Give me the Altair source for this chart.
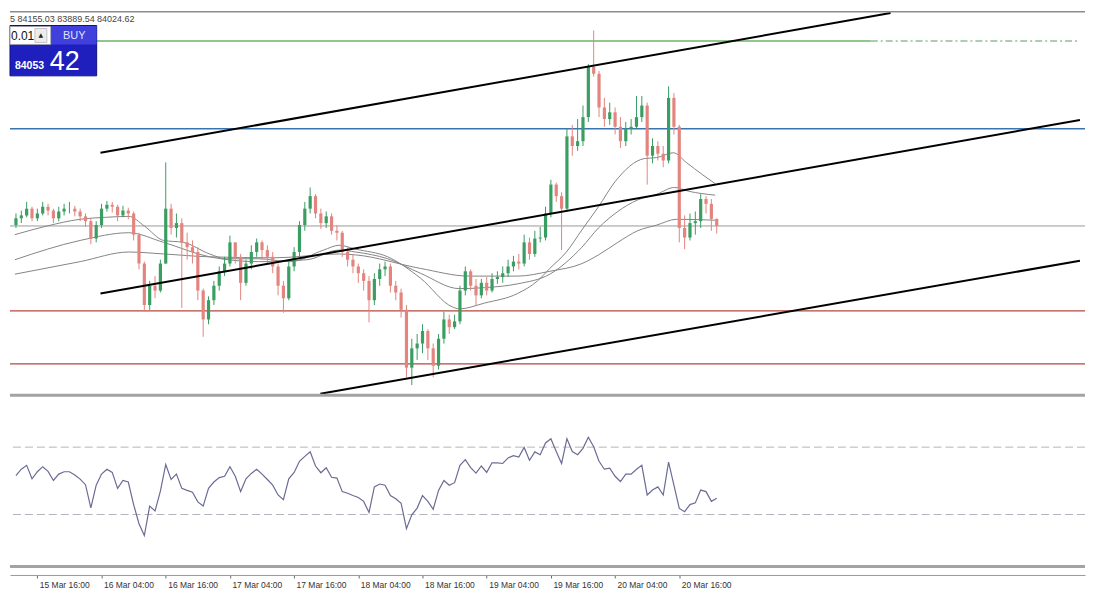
import altair as alt
import pandas as pd

BASE = pd.Timestamp("2025-03-15 12:00")


def ts(h):
    return (BASE + pd.Timedelta(hours=float(h))).strftime("%Y-%m-%dT%H:%M:%S")

# ---------------- candle data (BTCUSD, H1) ----------------
first_open = 84041
close = [84160, 84211, 84330, 84160, 84245, 84364, 84296, 84160, 84279, 84330,
         84330, 84279, 84194, 84109, 83803, 84041, 84330, 84398, 84364, 84211,
         84296, 84245, 83871, 83361, 82630, 82970, 82885, 83361, 84330, 83990,
         84075, 83735, 83650, 83565, 82885, 82375, 82715, 82970, 83225, 83361,
         83735, 83480, 83021, 83361, 83565, 83735, 83599, 83480, 83310, 82970,
         82749, 83310, 83565, 84041, 84330, 84551, 84245, 84075, 84194, 83939,
         83905, 83565, 83429, 83310, 83191, 83055, 82715, 83089, 83259, 83310,
         82970, 82851, 82545, 81525, 81865, 81950, 82171, 81865, 81559, 82035,
         82375, 82239, 82341, 82885, 83225, 82970, 82800, 83021, 82885, 83089,
         83123, 83191, 83310, 83395, 83361, 83735, 83531, 83803, 83820, 84245,
         84755, 84551, 84330, 85605, 85435, 85520, 85945, 86829, 86710, 86115,
         85911, 86030, 85775, 85520, 85741, 85775, 85945, 86149, 85265, 85435,
         85299, 85180, 86285, 85775, 83990, 83820, 84075, 84109, 84500, 84415,
         84150, 84024.62]
high = [84245, 84296, 84449, 84364, 84330, 84449, 84415, 84330, 84364, 84415,
        84449, 84381, 84330, 84245, 84160, 84109, 84415, 84466, 84449, 84398,
        84381, 84347, 84279, 83905, 83395, 83055, 83140, 83429, 85146, 84415,
        84245, 84160, 83905, 83769, 83650, 82919, 82783, 83055, 83310, 83480,
        83854, 83735, 83531, 83429, 83684, 83803, 83769, 83684, 83565, 83361,
        83055, 83395, 83650, 84109, 84449, 84704, 84585, 84330, 84279, 84245,
        84041, 83939, 83650, 83531, 83361, 83259, 83140, 83191, 83361, 83395,
        83361, 83055, 82919, 82630, 82035, 82120, 82290, 82205, 81950, 82120,
        82511, 82460, 82460, 82970, 83310, 83259, 83089, 83089, 83123, 83191,
        83225, 83310, 83429, 83497, 83531, 83871, 83820, 83939, 84007, 84364,
        84840, 84789, 84619, 85741, 85809, 85911, 86149, 86880, 87475, 86761,
        86285, 86200, 86115, 85945, 85860, 85911, 86319, 86319, 86200, 85571,
        85520, 85435, 86489, 86370, 85809, 84211, 84245, 84279, 84585, 84551,
        84500, 84155.03]
low = [83990, 84075, 84177, 84109, 84109, 84211, 84211, 84075, 84109, 84211,
       84245, 84194, 84109, 84007, 83701, 83735, 83990, 84279, 84262, 84109,
       84177, 84143, 83769, 83259, 82511, 82545, 82749, 82851, 83361, 83871,
       83820, 82579, 83429, 83361, 82715, 82069, 82290, 82630, 82885, 83140,
       83310, 83361, 82715, 82970, 83259, 83480, 83429, 83361, 83191, 82800,
       82494, 82715, 83225, 83480, 83939, 84245, 84160, 83973, 83990, 83871,
       83769, 83480, 83310, 83191, 83021, 82885, 82324, 82630, 82970, 83140,
       82851, 82715, 82409, 81355, 81219, 81661, 81780, 81661, 81355, 81491,
       81950, 82120, 82205, 82290, 82800, 82885, 82630, 82749, 82800, 82851,
       83004, 83021, 83123, 83225, 83259, 83310, 83429, 83480, 83735, 83769,
       84177, 84449, 83599, 84296, 85265, 85350, 85435, 85860, 86659, 85945,
       85775, 85809, 85639, 85401, 85435, 85639, 85741, 85860, 84755, 85129,
       85180, 85061, 85129, 85639, 83735, 83616, 83769, 83871, 83990, 84245,
       83939, 83889.54]

# ---------------- RSI ----------------
rsi = [53.1, 56.9, 59.2, 51.2, 55.4, 58.4, 55.6, 50.2, 54.0, 55.4,
       55.4, 53.5, 51.0, 47.7, 34.0, 47.4, 54.0, 56.9, 55.0, 45.5,
       50.2, 49.3, 35.9, 24.5, 17.5, 35.0, 32.1, 43.9, 59.7, 50.8,
       54.0, 45.5, 44.3, 43.2, 37.5, 35.0, 45.5, 49.3, 51.9, 52.7,
       58.4, 52.7, 43.6, 51.2, 54.4, 56.9, 54.0, 50.8, 47.4, 41.6,
       38.8, 51.2, 55.0, 61.6, 64.5, 67.2, 58.8, 54.8, 57.8, 52.1,
       51.6, 43.6, 42.6, 41.3, 40.1, 37.8, 31.2, 46.4, 48.1, 47.4,
       41.3, 39.4, 36.7, 21.6, 29.8, 33.8, 41.3, 37.8, 33.1, 44.3,
       50.2, 47.4, 48.9, 59.2, 62.6, 57.8, 54.6, 58.8, 55.0, 60.7,
       60.7, 60.3, 63.6, 64.9, 64.1, 69.8, 62.2, 67.2, 65.5, 72.5,
       75.0, 67.4, 60.3, 75.0, 67.4, 65.5, 69.3, 75.9, 70.2, 61.6,
       56.9, 57.5, 52.7, 49.6, 54.0, 54.0, 56.9, 59.2, 41.6, 44.5,
       46.4, 41.6, 61.1, 47.4, 33.6, 31.7, 35.9, 36.9, 44.5, 43.6,
       37.8, 39.7]
rsi_levels = [70, 30]

# ---------------- moving averages (hours from 15 Mar 12:00, price) ----------------
ma_fast_h = [-0.2, 5.8, 12.0, 16.7, 21.1, 24.0, 27.6, 31.3, 36.2, 39.3, 45.3, 51.3,
             57.5, 60.4, 63.5, 69.5, 75.6, 81.6, 82.9, 87.6, 93.8, 97.5, 99.8,
             102.9, 105.8, 108.9, 112.0, 117.5, 119.8, 122.9, 125.3, 128.4, 130.7]
ma_fast_p = [83871, 84024, 84143, 84177, 84194, 84024, 83769, 83735, 83531, 83446,
             83446, 83395, 83599, 83684, 83616, 83480, 83106, 82596, 82562, 82664,
             82834, 83055, 83276, 83565, 83956, 84364, 84806, 85214, 85231, 85316,
             85146, 84925, 84772]
ma_mid_h = [-0.2, 12.0, 21.1, 27.6, 36.2, 45.3, 54.4, 60.4, 63.5, 69.5, 75.6, 82.9,
            87.6, 93.8, 99.8, 105.8, 108.9, 112.5, 116.2, 119.8, 123.1, 125.8, 130.7]
ma_mid_p = [83429, 83769, 83905, 83735, 83480, 83395, 83429, 83599, 83565, 83446,
            83191, 82919, 82936, 83004, 83174, 83650, 83990, 84279, 84483, 84585,
            84704, 84636, 84568]
ma_slow_h = [-0.2, 12.0, 21.1, 27.6, 36.2, 48.4, 60.4, 63.5, 75.6, 84.7, 93.8, 99.8,
             105.8, 108.9, 112.5, 116.2, 119.8, 123.5, 130.7]
ma_slow_p = [83174, 83395, 83565, 83531, 83480, 83463, 83531, 83514, 83276, 83140,
             83140, 83225, 83361, 83514, 83735, 83939, 84041, 84143, 84126]

# ---------------- channel trend lines ----------------
chan_upper_h = [15.8, 163.5]
chan_upper_p = [85316, 87781]
chan_mid_h = [15.8, 198.9]
chan_mid_p = [82834, 85894]
chan_low_h = [56.9, 198.9]
chan_low_p = [81066, 83412]

# ---------------- horizontal levels ----------------
level_green = 87288
level_green_label_start_h = 159.8
level_blue = 85741
level_bid = 84024.62
level_red = [82528, 81593]

# ---------------- axis ticks ----------------
tick_days = [15, 16, 16, 17, 17, 18, 18, 19, 19, 20, 20]
tick_hours = [16, 4, 16, 4, 16, 4, 16, 4, 16, 4, 16]

header_text = "5 84155.03 83889.54 84024.62"
lot_text = "0.01"
buy_text = "BUY"
ask_main = "84053"
ask_big = "42"

# =============== build chart ===============
W, H = 1079, 560
UP, DOWN = "#3a9d62", "#e3857e"

x_scale = alt.Scale(domain=[alt.DateTime(year=2025, month=3, date=15, hours=11, minutes=49),
                            alt.DateTime(year=2025, month=3, date=23, hours=18, minutes=55)],
                    nice=False)
x_axis = alt.Axis(values=[alt.DateTime(year=2025, month=3, date=d, hours=h)
                          for d, h in zip(tick_days, tick_hours)],
                  format="%d %b %H:%M", labelAlign="left", labelBaseline="top",
                  labelOffset=2, labelPadding=3, tickSize=3, offset=6,
                  domainColor="#9a9a9a", domainWidth=1, tickColor="#666",
                  labelColor="#333", labelFont="Liberation Sans", labelFontSize=8.5,
                  grid=False, title=None, labelOverlap=False, labelFlush=False)
price_scale = alt.Scale(domain=[81066, 87781], range=[384, 2], nice=False, zero=False)
rsi_scale = alt.Scale(domain=[0, 100], range=[556, 387], nice=False, zero=False)


def X(field="t"):
    return alt.X(f"{field}:T", scale=x_scale, axis=x_axis, title=None)


def YP(field="p"):
    return alt.Y(f"{field}:Q", scale=price_scale, axis=None, title=None)


def YR(field="v"):
    return alt.Y(f"{field}:Q", scale=rsi_scale, axis=None, title=None)


n = len(close)
opens = [first_open] + close[:-1]
candles = pd.DataFrame({
    "t": [ts(i) for i in range(n)],
    "o": opens, "h": high, "l": low, "c": close,
})
candles["dir"] = ["up" if c >= o else "down" for o, c in zip(opens, close)]
dir_color = alt.Color("dir:N", scale=alt.Scale(domain=["up", "down"], range=[UP, DOWN]), legend=None)

rsi_df = pd.DataFrame({"t": [ts(i) for i in range(len(rsi))], "v": rsi})

ma_rows = []
for name, hs, ps in [("fast", ma_fast_h, ma_fast_p), ("mid", ma_mid_h, ma_mid_p), ("slow", ma_slow_h, ma_slow_p)]:
    for h, p in zip(hs, ps):
        ma_rows.append({"s": name, "t": ts(h), "p": p})
ma_df = pd.DataFrame(ma_rows)

ch_rows = []
for name, hs, ps in [("u", chan_upper_h, chan_upper_p), ("m", chan_mid_h, chan_mid_p), ("l", chan_low_h, chan_low_p)]:
    for h, p in zip(hs, ps):
        ch_rows.append({"s": name, "t": ts(h), "p": p})
ch_df = pd.DataFrame(ch_rows)

one = pd.DataFrame({"a": [0]})

layers = []

# horizontal levels
layers.append(alt.Chart(pd.DataFrame({"p": [level_blue]})).mark_rule(color="#3a74b0", strokeWidth=1.5).encode(y=YP()))
layers.append(alt.Chart(pd.DataFrame({"p": [level_bid]})).mark_rule(color="#9a9a9a", strokeWidth=1).encode(y=YP()))
layers.append(alt.Chart(pd.DataFrame({"p": level_red})).mark_rule(color="#b5473f", strokeWidth=1.3).encode(y=YP()))
green_solid = pd.DataFrame({"t0": [ts(-0.2)], "t1": [ts(level_green_label_start_h)], "p": [level_green]})
green_dash = pd.DataFrame({"t0": [ts(level_green_label_start_h)], "t1": [ts(198.9)], "p": [level_green]})
layers.append(alt.Chart(green_solid).mark_rule(color="#6ab46a", strokeWidth=1.3).encode(x=X("t0"), x2="t1:T", y=YP()))
layers.append(alt.Chart(green_dash).mark_rule(color="#8fbf99", strokeWidth=1.3, strokeDash=[7, 3, 2, 3]).encode(x=X("t0"), x2="t1:T", y=YP()))

# moving averages
layers.append(alt.Chart(ma_df).mark_line(color="#858585", strokeWidth=1, interpolate="monotone").encode(
    x=X(), y=YP(), detail="s:N"))

# candles
layers.append(alt.Chart(candles).mark_rule(strokeWidth=1).encode(x=X(), y=YP("l"), y2="h:Q", color=dir_color))
layers.append(alt.Chart(candles).mark_bar(size=3.2).encode(x=X(), y=YP("o"), y2="c:Q", color=dir_color))

# channel lines
layers.append(alt.Chart(ch_df).mark_line(color="#000000", strokeWidth=2).encode(x=X(), y=YP(), detail="s:N"))

# RSI panel
layers.append(alt.Chart(pd.DataFrame({"v": rsi_levels})).mark_rule(color="#b4b4bc", strokeWidth=1, strokeDash=[8, 4]).encode(y=YR()))
layers.append(alt.Chart(rsi_df).mark_line(color="#6b6b95", strokeWidth=1.2).encode(x=X(), y=YR()))

# panel separators / borders
layers.append(alt.Chart(one).mark_rule(color="#8c8c8c", strokeWidth=1.5).encode(x=alt.value(0), x2=alt.value(W), y=alt.value(0.75)))
layers.append(alt.Chart(one).mark_rule(color="#a3a3a3", strokeWidth=3).encode(x=alt.value(0), x2=alt.value(W), y=alt.value(385.5)))
layers.append(alt.Chart(one).mark_rule(color="#a3a3a3", strokeWidth=3).encode(x=alt.value(0), x2=alt.value(W), y=alt.value(557.5)))

# header
layers.append(alt.Chart(one).mark_text(align="left", baseline="middle", font="Liberation Sans", fontSize=9, color="#444").encode(
    x=alt.value(0), y=alt.value(8), text=alt.value(header_text)))

# one-click trading box
layers.append(alt.Chart(one).mark_rect(color="#1f1fbe", stroke="#10107a", strokeWidth=1).encode(
    x=alt.value(0), x2=alt.value(87), y=alt.value(14.5), y2=alt.value(65)))
layers.append(alt.Chart(one).mark_rect(color="#4040dc").encode(
    x=alt.value(42), x2=alt.value(87), y=alt.value(15), y2=alt.value(33.5)))
layers.append(alt.Chart(one).mark_rect(color="#ffffff", stroke="#9a9ab0", strokeWidth=1).encode(
    x=alt.value(0), x2=alt.value(41), y=alt.value(15.5), y2=alt.value(33.5)))
layers.append(alt.Chart(one).mark_rect(color="#ececec", stroke="#b8b8b8", strokeWidth=0.8).encode(
    x=alt.value(25), x2=alt.value(37), y=alt.value(17.5), y2=alt.value(31.5)))
layers.append(alt.Chart(one).mark_text(align="center", baseline="middle", font="DejaVu Sans", fontSize=6, color="#222").encode(
    x=alt.value(31), y=alt.value(24.5), text=alt.value("\u25b2")))
layers.append(alt.Chart(one).mark_text(align="left", baseline="middle", font="Liberation Sans", fontSize=12, color="#111").encode(
    x=alt.value(1), y=alt.value(25), text=alt.value(lot_text)))
layers.append(alt.Chart(one).mark_text(align="center", baseline="middle", font="Liberation Sans", fontSize=11, color="#dde2ff").encode(
    x=alt.value(64.5), y=alt.value(25), text=alt.value(buy_text)))
layers.append(alt.Chart(one).mark_text(align="left", baseline="alphabetic", font="Liberation Sans", fontSize=10.5, fontWeight="bold", color="#ffffff").encode(
    x=alt.value(5), y=alt.value(58.5), text=alt.value(ask_main)))
layers.append(alt.Chart(one).mark_text(align="left", baseline="alphabetic", font="Liberation Sans", fontSize=27, color="#ffffff").encode(
    x=alt.value(40), y=alt.value(59.5), text=alt.value(ask_big)))

chart = alt.layer(*layers).resolve_scale(y="independent").properties(
    width=W, height=H, padding=0, background="#ffffff"
).configure_view(stroke=None)

chart.save("out.html", embed_options={"renderer": "svg", "actions": False})
